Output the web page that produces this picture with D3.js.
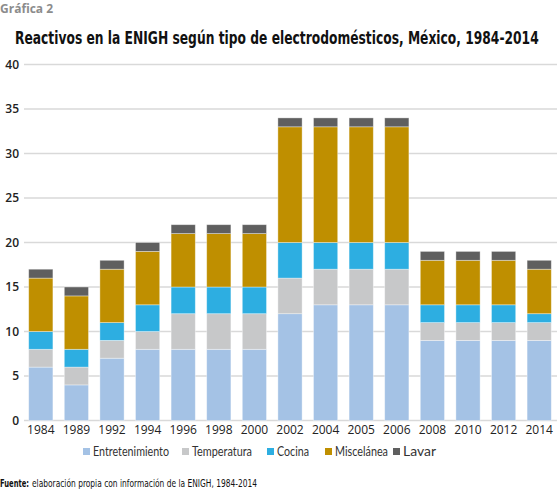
<!DOCTYPE html>
<html><head><meta charset="utf-8">
<script src="https://cdn.jsdelivr.net/npm/d3@7"></script>
<style>
body{margin:0;background:#fff;}
svg{display:block;}
</style></head>
<body>
<svg id="chart" width="557" height="490"></svg>
<script>
const years = ["1984","1989","1992","1994","1996","1998","2000","2002","2004","2005","2006","2008","2010","2012","2014"];
const seriesNames = ["Entretenimiento","Temperatura","Cocina","Miscelánea","Lavar"];
const entretenimiento = [6,4,7,8,8,8,8,12,13,13,13,9,9,9,9];
const temperatura     = [2,2,2,2,4,4,4,4,4,4,4,2,2,2,2];
const cocina          = [2,2,2,3,3,3,3,4,3,3,3,2,2,2,1];
const miscelanea      = [6,6,6,6,6,6,6,13,13,13,13,5,5,5,5];
const lavar           = [1,1,1,1,1,1,1,1,1,1,1,1,1,1,1];
const yTicks = [0,5,10,15,20,25,30,35,40];
const colors = ["#a4c2e5","#c7c8c9","#2daee1","#bf8f00","#5f5f5f"];

const valuesBySeries = [entretenimiento, temperatura, cocina, miscelanea, lavar];
const table = years.map((y,i)=>{
  const row = {year:y};
  seriesNames.forEach((s,j)=>row[s]=valuesBySeries[j][i]);
  return row;
});

const svg = d3.select("#chart");
const font = "'Open Sans', 'Noto Sans', sans-serif";
const condensed = "'DejaVu Sans Condensed','DejaVu Sans',sans-serif";

// place a text at (x, baseline y) horizontally squeezed to a target width
function fitText(g, x, yb, width, attrs, content){
  const grp = g.append("g");
  const t = grp.append("text").attr("x",0).attr("y",0);
  Object.entries(attrs).forEach(([k,v])=>t.attr(k,v));
  t.text(content);
  const w = t.node().getComputedTextLength();
  const s = width / w;
  grp.attr("transform",`translate(${x},${yb}) scale(${s},1)`);
  return t;
}

svg.append("text").attr("x",0).attr("y",13)
  .attr("font-family",font).attr("font-weight","bold").attr("font-size",12)
  .attr("fill","#8c8c8c").text("Gráfica 2");

fitText(svg, 15, 44, 524,
  {"font-family":condensed,"font-weight":"bold","font-size":18,"fill":"#111"},
  "Reactivos en la ENIGH según tipo de electrodomésticos, México, 1984-2014");

const x = d3.scaleBand().domain(years).range([23,557]).paddingInner(0.32).paddingOuter(0.16);
const y = d3.scaleLinear().domain([0,40]).range([420.5,64.5]);

// gridlines
svg.append("g").selectAll("line").data(yTicks).join("line")
  .attr("x1",24).attr("x2",557)
  .attr("y1",d=>y(d)).attr("y2",d=>y(d))
  .attr("stroke","#d9d9d9").attr("stroke-width",1.5);

// y axis labels
const yAxis = d3.axisLeft(y).tickValues(yTicks).tickSize(0).tickPadding(0);
const yg = svg.append("g").attr("transform","translate(19,0)").call(yAxis);
yg.select(".domain").remove();
yg.selectAll("text").attr("font-family",font).attr("font-size",12)
  .attr("font-weight","600").attr("fill","#222");

const stack = d3.stack().keys(seriesNames);
const stacked = stack(table);

svg.append("g").selectAll("g").data(stacked).join("g")
  .attr("fill",(d,i)=>colors[i])
  .selectAll("rect").data(d=>d).join("rect")
  .attr("x",d=>x(d.data.year))
  .attr("width",x.bandwidth())
  .attr("y",d=>y(d[1]))
  .attr("height",d=>y(d[0])-y(d[1]))
  .attr("stroke","#ffffff").attr("stroke-opacity",0.45).attr("stroke-width",0.8);

// x axis labels
const xAxis = d3.axisBottom(x).tickSize(0).tickPadding(0);
const xg = svg.append("g").attr("transform","translate(0,425)").call(xAxis);
xg.select(".domain").remove();
xg.selectAll("text").attr("font-family",font).attr("font-size",12).attr("fill","#222").attr("dy","0.71em");

// legend
const legendX = [83,182,267,325,393];
const legendW = [76,60,32,53,33];
const lg = svg.append("g");
seriesNames.forEach((s,i)=>{
  lg.append("rect").attr("x",legendX[i]).attr("y",448).attr("width",7).attr("height",7).attr("fill",colors[i]);
  fitText(lg, legendX[i]+10, 456, legendW[i],
    {"font-family":"Lato, 'Open Sans', sans-serif","font-size":13.5,"fill":"#333"}, s);
});

fitText(svg, 0, 487, 29,
  {"font-family":condensed,"font-weight":"bold","font-size":11,"fill":"#111"}, "Fuente:");
fitText(svg, 32, 487, 225,
  {"font-family":condensed,"font-size":11,"fill":"#111"},
  "elaboración propia con información de la ENIGH, 1984-2014");
</script>
</body></html>
